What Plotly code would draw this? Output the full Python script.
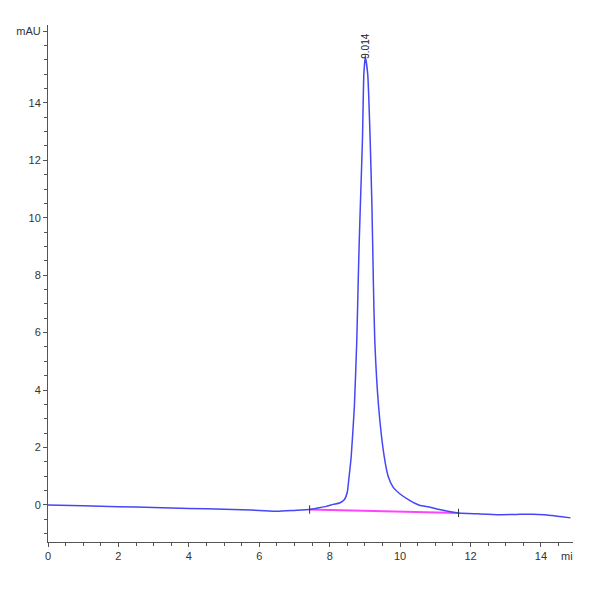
import plotly.graph_objects as go

# Chromatogram trace (time in min, absorbance in mAU)
time_min = [0, 1, 2, 3, 4, 5, 5.5, 6.0, 6.5, 7.0, 7.43, 7.6, 7.9, 8.1, 8.28, 8.42, 8.5,
            8.54, 8.61, 8.70, 8.77, 8.81, 8.84, 8.87, 8.93, 8.97, 9.01, 9.08, 9.15,
            9.20, 9.24, 9.28, 9.39, 9.55, 9.66, 9.80, 9.98, 10.27, 10.55, 10.83, 11.12,
            11.66, 12.2, 12.81, 13.3, 13.76, 14.1, 14.32, 14.6, 14.84]
signal_mau = [0.0, -0.03, -0.06, -0.09, -0.12, -0.15, -0.17, -0.19, -0.22, -0.19, -0.16,
              -0.12, -0.05, 0.02, 0.07, 0.19, 0.45, 0.86, 1.67, 3.41, 5.74, 7.8, 9.2,
              10.4, 12.7, 15.0, 15.6, 15.0, 12.7, 10.4, 7.8, 5.74, 3.41, 1.67, 1.0,
              0.62, 0.40, 0.16, -0.01, -0.07, -0.16, -0.28, -0.31, -0.34, -0.33, -0.32,
              -0.34, -0.37, -0.41, -0.45]

# Integration baseline (start / end of peak)
base_time = [7.43, 11.66]
base_mau = [-0.16, -0.28]

peak_rt = 9.014
peak_height = 15.6

# Axis ticks
x_tickvals = [0, 2, 4, 6, 8, 10, 12, 14]
x_ticktext = ["0", "2", "4", "6", "8", "10", "12", "14"]
y_tickvals = [0, 2, 4, 6, 8, 10, 12, 14, 16.5]
y_ticktext = ["0", "2", "4", "6", "8", "10", "12", "14", "mAU"]

font_family = "Liberation Sans Narrow, Liberation Sans, Arial"
axis_color = "#555555"

fig = go.Figure()

# Integration baseline
fig.add_trace(go.Scatter(
    x=base_time, y=base_mau, mode='lines',
    line=dict(color='#ff44ff', width=2),
    hoverinfo='skip'
))

# Signal
fig.add_trace(go.Scatter(
    x=time_min, y=signal_mau, mode='lines',
    line=dict(color='#4646f5', width=1.5, shape='spline', smoothing=0.5),
    hoverinfo='skip'
))

# Small tick marks at baseline start / end
fig.add_trace(go.Scatter(
    x=base_time, y=base_mau, mode='markers',
    marker=dict(symbol='line-ns', size=6, line=dict(color='#333333', width=1)),
    hoverinfo='skip'
))

# Retention time label above the peak
fig.add_annotation(
    x=peak_rt, y=peak_height, text=f"{peak_rt:.3f}",
    textangle=-90, showarrow=False, yanchor='bottom', xanchor='center',
    yshift=-4, font=dict(family=font_family, size=10, color='#222222')
)

# Truncated unit label at the end of the time axis
fig.add_annotation(
    x=14.74, y=-1.29, text="mi", showarrow=False, yanchor='top',
    yshift=-6, font=dict(family=font_family, size=11, color='#333333')
)

# the page body adds an 8px offset, so margins are shifted to compensate
fig.update_layout(
    width=600, height=600,
    margin=dict(l=40, r=35, t=17, b=66),
    paper_bgcolor='white', plot_bgcolor='white',
    showlegend=False,
    font=dict(family=font_family, size=11, color='#333333'),
    xaxis=dict(
        range=[0, 14.91], automargin=False,
        tickmode='array', tickvals=x_tickvals, ticktext=x_ticktext,
        ticks='outside', ticklen=4, tickcolor=axis_color,
        minor=dict(dtick=0.5, ticks='outside', ticklen=3, tickcolor=axis_color),
        showline=True, linecolor=axis_color, linewidth=1,
        showgrid=False, zeroline=False
    ),
    yaxis=dict(
        range=[-1.29, 16.71], automargin=False,
        tickmode='array', tickvals=y_tickvals, ticktext=y_ticktext,
        ticks='outside', ticklen=4, tickcolor=axis_color,
        minor=dict(dtick=0.5, ticks='outside', ticklen=3, tickcolor=axis_color),
        showline=True, linecolor=axis_color, linewidth=1,
        showgrid=False, zeroline=False
    )
)

fig.write_html("out.html")
